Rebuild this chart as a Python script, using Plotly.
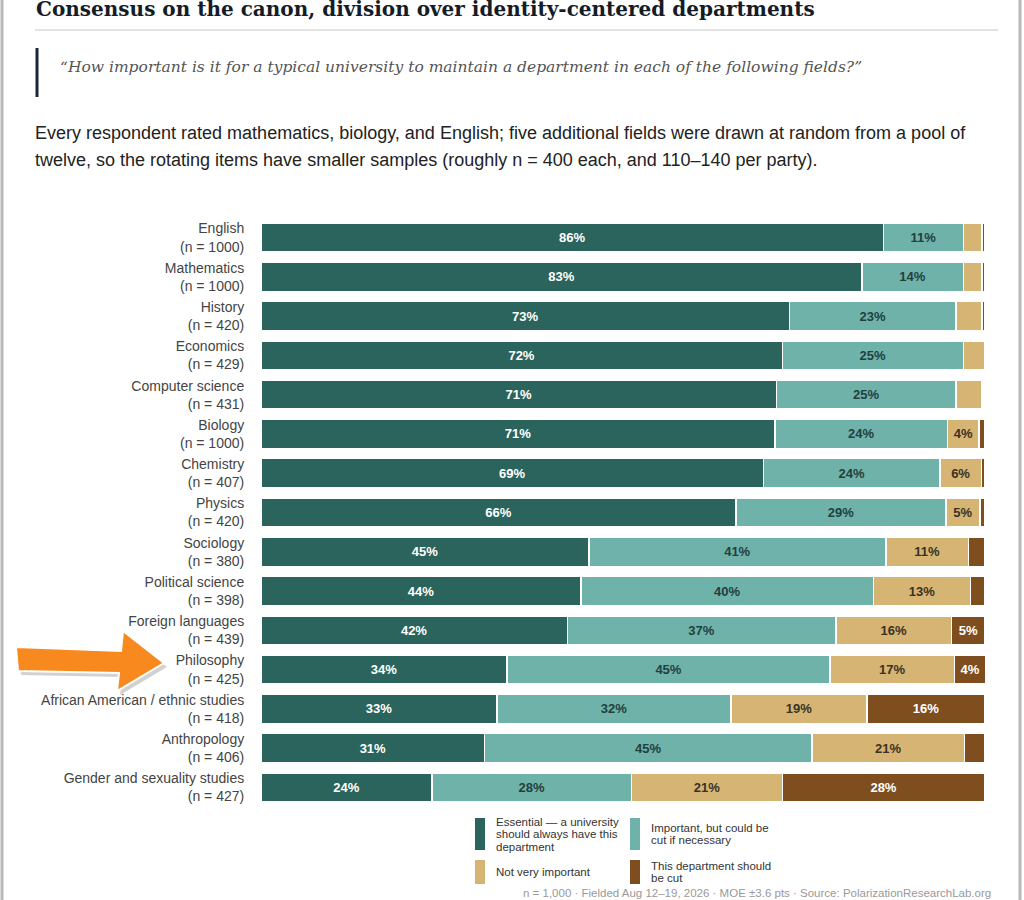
import plotly.graph_objects as go

# Data, top to bottom
fields = ["English", "Mathematics", "History", "Economics", "Computer science",
          "Biology", "Chemistry", "Physics", "Sociology", "Political science",
          "Foreign languages", "Philosophy", "African American / ethnic studies",
          "Anthropology", "Gender and sexuality studies"]
sample_n = [1000, 1000, 420, 429, 431, 1000, 407, 420, 380, 398, 439, 425, 418, 406, 427]

essential = [86, 83, 73, 72, 71.2, 71, 69.4, 65.6, 45.3, 44.2, 42.3, 34, 32.6, 30.9, 23.6]
important = [11, 14, 23, 25, 24.8, 23.8, 24.4, 29, 41, 40.4, 37.1, 44.6, 32.3, 45.2, 27.6]
not_very = [2.6, 2.6, 3.6, 3, 3.6, 4.4, 5.7, 4.7, 11.4, 13.4, 16, 17.2, 18.8, 21.1, 20.8]
should_cut = [0.4, 0.4, 0.4, 0, 0, 0.8, 0.5, 0.6, 2.3, 2.0, 4.6, 4.3, 16.3, 2.8, 28]

series_names = ["Essential — a university should always have this department",
                "Important, but could be cut if necessary",
                "Not very important",
                "This department should be cut"]
legend_lines = [["Essential — a university", "should always have this", "department"],
                ["Important, but could be", "cut if necessary"],
                ["Not very important"],
                ["This department should", "be cut"]]

colors = ["#2a645c", "#6fb2aa", "#d6b474", "#7e4e1f"]
text_colors = ["#ffffff", "#22403d", "#3a3224", "#ffffff"]

W, H = 1024, 900


def fx(x):
    return x / W


def fy(y):
    return 1 - y / H


labels = [f"{f}<br>(n = {n})" for f, n in zip(fields, sample_n)]

fig = go.Figure()
for name, vals, col, tcol in zip(series_names, [essential, important, not_very, should_cut],
                                 colors, text_colors):
    fig.add_trace(go.Bar(
        y=labels, x=vals, orientation="h", name=name,
        marker=dict(color=col, line=dict(color="white", width=1.5)),
        text=[f"{v:.0f}%" if v >= 4 else "" for v in vals],
        textposition="inside", insidetextanchor="middle", textangle=0,
        constraintext="none",
        textfont=dict(family="Liberation Sans, Arial, sans-serif", size=13, color=tcol,
                      weight="bold"),
        hoverinfo="skip",
    ))

fig.update_layout(
    barmode="stack", bargap=0.26,
    width=W, height=H,
    margin=dict(l=0, r=0, t=0, b=0),
    paper_bgcolor="white", plot_bgcolor="white",
    showlegend=False,
    font=dict(family="Liberation Sans, Arial, sans-serif", color="#444"),
    xaxis=dict(domain=[fx(261), fx(985)], range=[0, 100], visible=False, fixedrange=True),
    yaxis=dict(domain=[fy(807), fy(218)], autorange="reversed", showgrid=False,
               showline=False, zeroline=False, ticks="outside", ticklen=13,
               tickcolor="rgba(0,0,0,0)", automargin=False,
               tickfont=dict(size=14, color="#444")),
)

annotations = []
shapes = []

# title, rule, quote
annotations.append(dict(x=fx(34), y=fy(8.5), xref="paper", yref="paper", xanchor="left",
                        yanchor="middle", showarrow=False,
                        text="<b>Consensus on the canon, division over identity-centered departments</b>",
                        font=dict(family="DejaVu Serif, Georgia, serif", size=20, color="#141c26")))
shapes.append(dict(type="line", xref="paper", yref="paper", x0=fx(35), x1=fx(998),
                   y0=fy(30), y1=fy(30), line=dict(color="#e4e4e4", width=2)))
shapes.append(dict(type="line", xref="paper", yref="paper", x0=fx(37), x1=fx(37),
                   y0=fy(48), y1=fy(97), line=dict(color="#1b2733", width=3)))
annotations.append(dict(x=fx(58), y=fy(67), xref="paper", yref="paper", xanchor="left",
                        yanchor="middle", showarrow=False,
                        text="<i>“How important is it for a typical university to maintain a department in each of the following fields?”</i>",
                        font=dict(family="DejaVu Serif, Georgia, serif", size=15.5, color="#555")))

desc = ["Every respondent rated mathematics, biology, and English; five additional fields were drawn at random from a pool of",
        "twelve, so the rotating items have smaller samples (roughly n = 400 each, and 110–140 per party)."]
for i, line in enumerate(desc):
    annotations.append(dict(x=fx(33), y=fy(133 + 27 * i), xref="paper", yref="paper",
                            xanchor="left", yanchor="middle", showarrow=False, text=line,
                            font=dict(size=18, color="#222")))

# custom legend
swatch_pos = [(475, 818, 850), (630, 818, 850), (475, 860, 884), (630, 860, 884)]
for (x0, y0, y1), col, lines in zip(swatch_pos, colors, legend_lines):
    shapes.append(dict(type="rect", xref="paper", yref="paper", x0=fx(x0), x1=fx(x0 + 10),
                       y0=fy(y1), y1=fy(y0), fillcolor=col, line=dict(width=0)))
    mid = (y0 + y1) / 2
    for j, ln in enumerate(lines):
        yy = mid + (j - (len(lines) - 1) / 2) * 12.5
        annotations.append(dict(x=fx(x0 + 19), y=fy(yy), xref="paper", yref="paper",
                                xanchor="left", yanchor="middle", showarrow=False, text=ln,
                                font=dict(size=11.5, color="#333")))

annotations.append(dict(x=fx(993), y=fy(893), xref="paper", yref="paper", xanchor="right",
                        yanchor="middle", showarrow=False,
                        text="n = 1,000 · Fielded Aug 12–19, 2026 · MOE ±3.6 pts · Source: PolarizationResearchLab.org",
                        font=dict(size=11.5, color="#999")))

# orange call-out arrow pointing at Philosophy
arrow_pts = [(16, 647), (121, 651), (123, 631), (164, 663), (117, 691), (119, 673), (18, 671)]


def arrow_path(dx=0, dy=0):
    pts = [f"{fx(x + dx)},{fy(y + dy)}" for x, y in arrow_pts]
    return "M " + " L ".join(pts) + " Z"


shapes.append(dict(type="path", xref="paper", yref="paper", path=arrow_path(3, 4),
                   fillcolor="rgba(0,0,0,0.18)", line=dict(width=0)))
shapes.append(dict(type="path", xref="paper", yref="paper", path=arrow_path(),
                   fillcolor="#f7891f", line=dict(color="white", width=2)))

# page borders
shapes.append(dict(type="line", xref="paper", yref="paper", x0=fx(2), x1=fx(2), y0=0, y1=1,
                   line=dict(color="#b8b8b8", width=3)))
shapes.append(dict(type="line", xref="paper", yref="paper", x0=fx(1020), x1=fx(1020), y0=0, y1=1,
                   line=dict(color="#b8b8b8", width=3)))

fig.update_layout(annotations=annotations, shapes=shapes)
fig.write_html("out.html", config={"displayModeBar": False},
               post_script="document.body.style.margin='0px';")
